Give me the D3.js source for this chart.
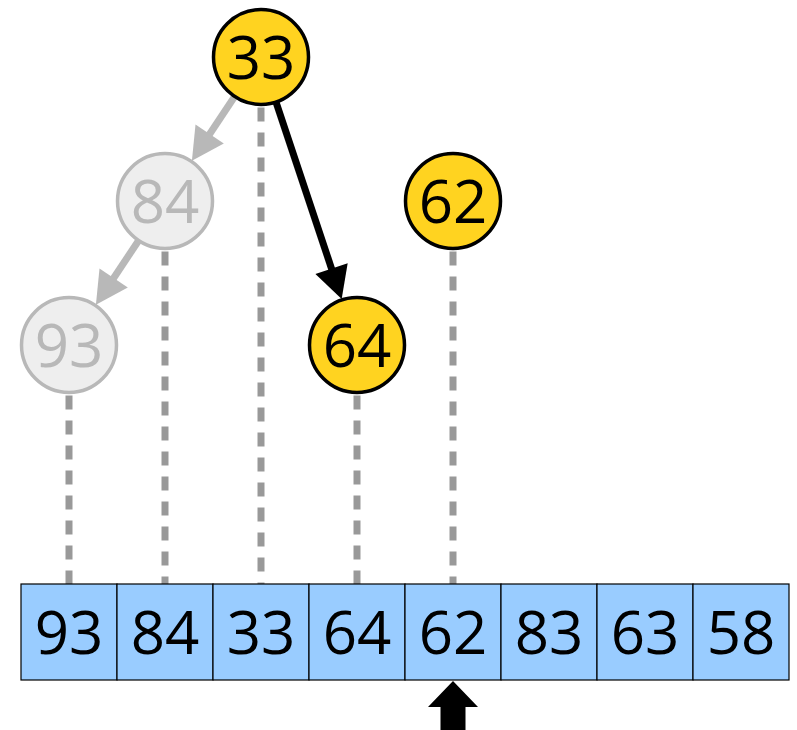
<!DOCTYPE html>
<meta charset="utf-8">
<style>
    body { margin: 0; background: #fff; }
    text { font-family: "Open Sans", "Noto Sans", sans-serif; }
</style>
<body>
<svg id="chart" width="797" height="730"></svg>
</body>
<script src="https://d3js.org/d3.v7.min.js"></script>
<script>
    // array contents
    var cells = [93, 84, 33, 64, 62, 83, 63, 58];
    var pointer = 4;

    // tree nodes: value, column in array, depth, active
    var nodeValues = [33, 84, 93, 64, 62];
    var nodeCols   = [2, 1, 0, 3, 4];
    var nodeDepths = [0, 1, 2, 2, 1];
    var nodeActive = [true, false, false, true, true];

    // edges: from node, to node, active
    var edgeFrom   = [0, 1, 0];
    var edgeTo     = [1, 2, 3];
    var edgeActive = [false, false, true];

    var svg = d3.select("#chart");
    var r = 47.5;
    var arrTop = 584, arrBottom = 680;

    var x = d3.scaleBand()
        .domain(d3.range(cells.length))
        .range([21, 789]);
    var y = d3.scaleLinear()
        .domain([0, 2])
        .range([57, 345]);

    function cx(i) { return x(i) + x.bandwidth() / 2; }

    var nodes = nodeValues.map(function(v, i) {
        return { value: v, x: cx(nodeCols[i]), y: y(nodeDepths[i]), active: nodeActive[i] };
    });

    // dashed drop lines
    svg.selectAll("line.drop")
        .data(nodes)
        .enter().append("line")
        .attr("class", "drop")
        .attr("x1", function(d) { return d.x; })
        .attr("x2", function(d) { return d.x; })
        .attr("y1", function(d) { return d.y + r + 3; })
        .attr("y2", arrTop)
        .attr("stroke", "#999")
        .attr("stroke-width", 7)
        .attr("stroke-dasharray", "14,11");

    // edges with arrowheads
    edgeFrom.forEach(function(f, i) {
        var a = nodes[f], b = nodes[edgeTo[i]];
        var dx = b.x - a.x, dy = b.y - a.y;
        var len = Math.sqrt(dx * dx + dy * dy);
        var ux = dx / len, uy = dy / len;
        var col = edgeActive[i] ? "#000" : "#b8b8b8";
        var sx = a.x + ux * r, sy = a.y + uy * r;
        var tx = b.x - ux * (r + 1), ty = b.y - uy * (r + 1);
        var hl = 32, hw = 17;
        var bx = tx - ux * hl, by = ty - uy * hl;
        svg.append("line")
            .attr("x1", sx).attr("y1", sy)
            .attr("x2", bx + ux * 2).attr("y2", by + uy * 2)
            .attr("stroke", col)
            .attr("stroke-width", 7);
        svg.append("polygon")
            .attr("points", [
                [tx, ty],
                [bx - uy * hw, by + ux * hw],
                [bx + uy * hw, by - ux * hw]
            ].map(function(p) { return p.join(","); }).join(" "))
            .attr("fill", col);
    });

    // nodes
    var g = svg.selectAll("g.node")
        .data(nodes)
        .enter().append("g")
        .attr("class", "node")
        .attr("transform", function(d) { return "translate(" + d.x + "," + d.y + ")"; });

    g.append("circle")
        .attr("r", r)
        .attr("fill", function(d) { return d.active ? "#ffd320" : "#eeeeee"; })
        .attr("stroke", function(d) { return d.active ? "#000" : "#b8b8b8"; })
        .attr("stroke-width", 3.5);

    g.append("text")
        .attr("text-anchor", "middle")
        .attr("dy", "0.36em")
        .attr("font-size", 60)
        .attr("fill", function(d) { return d.active ? "#000" : "#b8b8b8"; })
        .text(function(d) { return d.value; });

    // array cells
    var cell = svg.selectAll("g.cell")
        .data(cells)
        .enter().append("g")
        .attr("class", "cell");

    cell.append("rect")
        .attr("x", function(d, i) { return x(i); })
        .attr("y", arrTop)
        .attr("width", x.bandwidth())
        .attr("height", arrBottom - arrTop)
        .attr("fill", "#99ccff")
        .attr("stroke", "#000")
        .attr("stroke-width", 1.2);

    cell.append("text")
        .attr("x", function(d, i) { return cx(i); })
        .attr("y", (arrTop + arrBottom) / 2)
        .attr("dy", "0.36em")
        .attr("text-anchor", "middle")
        .attr("font-size", 60)
        .attr("fill", "#000")
        .text(function(d) { return d; });

    // pointer arrow
    var px = cx(pointer);
    svg.append("polygon")
        .attr("points", [
            [px, arrBottom + 1], [px + 25, arrBottom + 27], [px + 12.5, arrBottom + 27], [px + 12.5, 730],
            [px - 12.5, 730], [px - 12.5, arrBottom + 27], [px - 25, arrBottom + 27]
        ].map(function(p) { return p.join(","); }).join(" "))
        .attr("fill", "#000");
</script>
